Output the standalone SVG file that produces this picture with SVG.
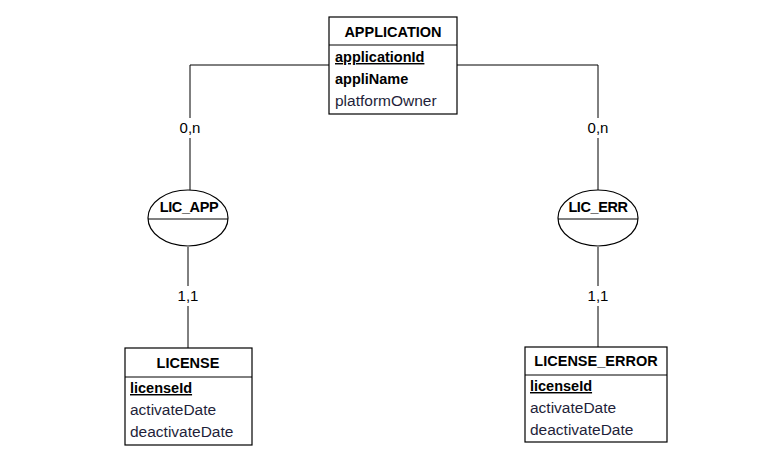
<svg xmlns="http://www.w3.org/2000/svg" width="773" height="456" viewBox="0 0 773 456">
<style>
.box{fill:#fff;stroke:#000;stroke-width:1.2}
.ln{fill:none;stroke:#000;stroke-width:1}
.t{font-family:"Liberation Sans",Arial,sans-serif;font-size:14px;fill:#000}
.b{font-weight:bold;font-size:14.5px}
.a{fill:#1f1f3a;font-size:15.5px}
.c{font-family:"Liberation Sans",Arial,sans-serif;font-size:15px;fill:#000;text-anchor:middle}
.e{font-weight:bold;font-size:14.5px;letter-spacing:-0.4px}
</style>
<rect width="773" height="456" fill="#fff"/>
<g id="connectors">
<polyline class="ln" points="329,65 190,65 190,118"/>
<line class="ln" x1="190" y1="138" x2="190" y2="190"/>
<polyline class="ln" points="457,65 598,65 598,118"/>
<line class="ln" x1="598" y1="138" x2="598" y2="190"/>
<line class="ln" x1="188" y1="247" x2="188" y2="286"/>
<line class="ln" x1="188" y1="306" x2="188" y2="348"/>
<line class="ln" x1="598" y1="247" x2="598" y2="286"/>
<line class="ln" x1="598" y1="306" x2="598" y2="347"/>
<text class="c" x="190" y="133">0,n</text>
<text class="c" x="598" y="133">0,n</text>
<text class="c" x="188" y="301">1,1</text>
<text class="c" x="598" y="301">1,1</text>
</g>
<g id="application">
<rect class="box" x="329" y="17" width="128" height="97"/>
<line class="ln" x1="329" y1="45" x2="457" y2="45"/>
<text class="t b" x="393" y="37" text-anchor="middle">APPLICATION</text>
<text class="t b" x="335" y="62" text-decoration="underline">applicationId</text>
<text class="t b" x="335" y="84">appliName</text>
<text class="t a" x="335" y="106">platformOwner</text>
</g>
<g id="lic_app">
<ellipse class="box" cx="188" cy="218" rx="40" ry="28"/>
<line class="ln" x1="148" y1="219" x2="228" y2="219"/>
<text class="c e" x="189" y="212">LIC_APP</text>
</g>
<g id="lic_err">
<ellipse class="box" cx="598" cy="218" rx="40" ry="28"/>
<line class="ln" x1="558" y1="219" x2="638" y2="219"/>
<text class="c e" x="598" y="212">LIC_ERR</text>
</g>
<g id="license">
<rect class="box" x="125" y="348" width="127" height="97"/>
<line class="ln" x1="125" y1="377" x2="252" y2="377"/>
<text class="t b" x="188" y="368" text-anchor="middle">LICENSE</text>
<text class="t b" x="130" y="393" text-decoration="underline">licenseId</text>
<text class="t a" x="130" y="415">activateDate</text>
<text class="t a" x="130" y="437">deactivateDate</text>
</g>
<g id="license_error">
<rect class="box" x="525" y="347" width="142" height="95"/>
<line class="ln" x1="525" y1="375" x2="667" y2="375"/>
<text class="t b" x="596" y="366" text-anchor="middle">LICENSE_ERROR</text>
<text class="t b" x="530" y="391" text-decoration="underline">licenseId</text>
<text class="t a" x="530" y="413">activateDate</text>
<text class="t a" x="530" y="435">deactivateDate</text>
</g>
</svg>
